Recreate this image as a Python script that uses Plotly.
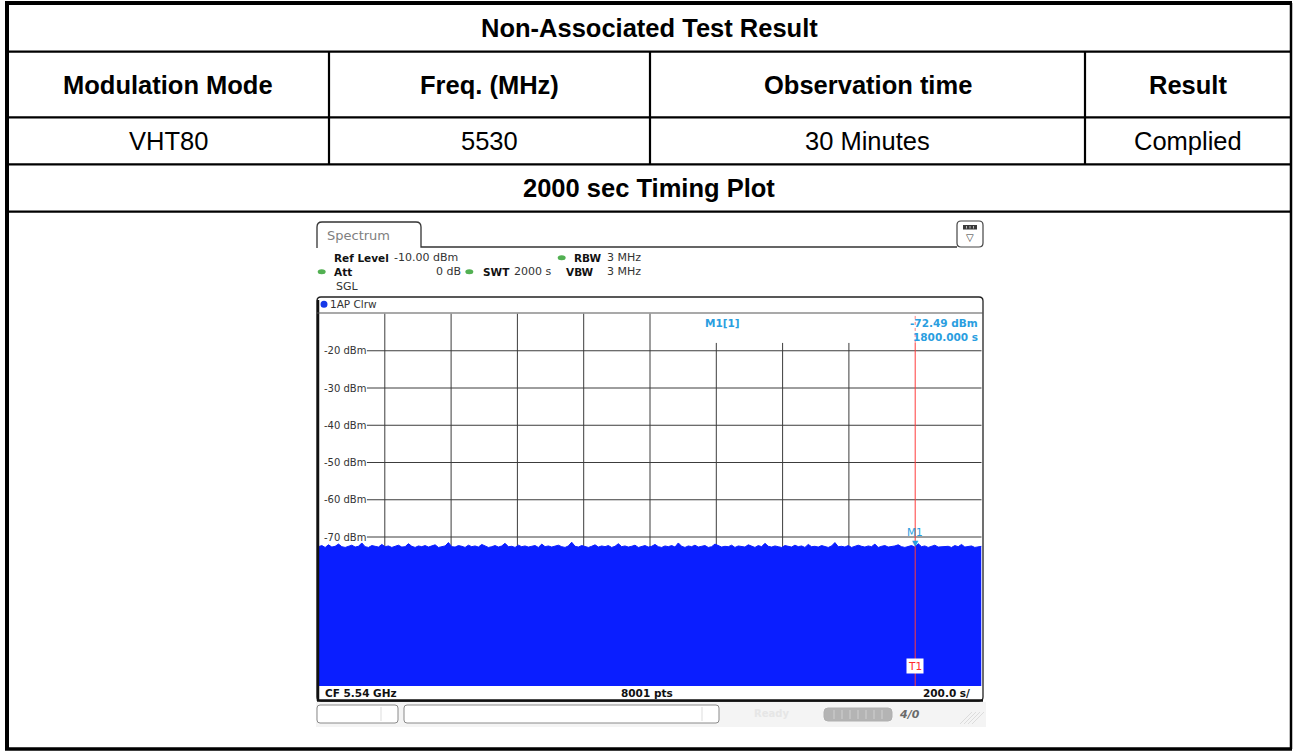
import plotly.graph_objects as go

W, H = 1293, 751

# ---------------- data ----------------
table_title = "Non-Associated Test Result"
header_labels = ["Modulation Mode", "Freq. (MHz)", "Observation time", "Result"]
row_values = ["VHT80", "5530", "30 Minutes", "Complied"]
plot_title = "2000 sec Timing Plot"

sweep_time = 2000          # s
ref_level = -10            # dBm
bottom_level = -110        # dBm
time_ticks = [200, 400, 600, 800, 1000, 1200, 1400, 1600, 1800]
level_ticks = [-20, -30, -40, -50, -60, -70]
level_tick_labels = ["-20 dBm", "-30 dBm", "-40 dBm", "-50 dBm", "-60 dBm", "-70 dBm"]
marker_time = 1800
marker_level = -72.49

trace_levels = [
    -72.6, -72.3, -72.8, -72.1, -72.7, -72.5, -71.9, -72.6, -72.8, -72.4,
    -72.2, -72.7, -72.5, -71.6, -72.6, -72.8, -72.3, -72.5, -72.7, -72.0,
    -72.6, -72.4, -72.8, -72.5, -72.2, -72.7, -72.6, -71.8, -72.5, -72.8,
    -72.4, -72.6, -72.3, -72.7, -72.5, -72.1, -72.8, -72.6, -72.4, -71.5,
    -72.6, -72.7, -72.3, -72.5, -72.8, -72.2, -72.6, -72.4, -72.7, -72.0,
    -72.5, -72.8, -72.6, -72.3, -72.7, -72.4, -71.7, -72.6, -72.5, -72.8,
    -72.2, -72.6, -72.4, -72.7, -72.5, -72.3, -72.8, -71.9, -72.6, -72.4,
    -72.7, -72.5, -72.2, -72.6, -72.8, -72.4, -71.4, -72.5, -72.7, -72.3,
    -72.6, -72.8, -72.5, -72.1, -72.7, -72.4, -72.6, -72.3, -72.8, -72.5,
    -71.8, -72.6, -72.4, -72.7, -72.5, -72.2, -72.8, -72.6, -72.3, -72.7,
    -72.5, -72.0, -72.6, -72.8, -72.4, -72.6, -72.3, -72.7, -71.6, -72.5,
    -72.8, -72.4, -72.6, -72.2, -72.7, -72.5, -72.3, -72.8, -72.6, -71.9,
    -72.4, -72.7, -72.5, -72.6, -72.2, -72.8, -72.4, -72.6, -72.7, -72.1,
    -72.5, -72.8, -72.3, -72.6, -71.7, -72.5, -72.7, -72.4, -72.6, -72.8,
    -72.3, -72.5, -72.7, -72.2, -72.6, -72.4, -72.8, -72.0, -72.6, -72.5,
    -72.7, -72.3, -72.6, -72.8, -72.4, -71.5, -72.6, -72.5, -72.7, -72.3,
    -72.8, -72.6, -72.2, -72.5, -72.7, -72.4, -72.6, -71.9, -72.8, -72.5,
    -72.3, -72.7, -72.6, -72.4, -72.1, -72.6, -72.8, -72.5, -72.3, -72.7,
    -71.8, -72.6, -72.4, -72.8, -72.5, -72.2, -72.7, -72.6, -72.4, -72.5,
    -72.8, -72.3, -72.6, -72.0, -72.7, -72.5, -72.4, -72.8, -72.6, -72.5,
]

# ---------------- helpers (pixel -> paper) ----------------
def X(px):
    return px / W

def Y(py):
    return 1 - py / H

shapes = []
annotations = []

def hline(y, x0, x1, color="#000", width=2):
    shapes.append(dict(type="line", xref="paper", yref="paper", x0=X(x0), x1=X(x1),
                       y0=Y(y), y1=Y(y), line=dict(color=color, width=width)))

def vline(x, y0, y1, color="#000", width=2, dash="solid"):
    shapes.append(dict(type="line", xref="paper", yref="paper", x0=X(x), x1=X(x),
                       y0=Y(y0), y1=Y(y1), line=dict(color=color, width=width, dash=dash)))

def rrect(x0, y0, x1, y1, r, line="#555", width=1, fill=None):
    p = lambda x, y: f"{X(x)},{Y(y)}"
    path = (f"M {p(x0, y0 + r)} Q {p(x0, y0)} {p(x0 + r, y0)} L {p(x1 - r, y0)} "
            f"Q {p(x1, y0)} {p(x1, y0 + r)} L {p(x1, y1 - r)} Q {p(x1, y1)} {p(x1 - r, y1)} "
            f"L {p(x0 + r, y1)} Q {p(x0, y1)} {p(x0, y1 - r)} Z")
    shapes.append(dict(type="path", xref="paper", yref="paper", path=path,
                       line=dict(color=line, width=width),
                       fillcolor=fill if fill else "rgba(0,0,0,0)"))

def text(x, y, s, size=10, color="#222", family="DejaVu Sans", anchor="left", bold=False):
    annotations.append(dict(xref="paper", yref="paper", x=X(x), y=Y(y),
                            text=f"<b>{s}</b>" if bold else s, showarrow=False,
                            xanchor=anchor, yanchor="middle",
                            font=dict(size=size, color=color, family=family)))

# ---------------- table ----------------
TF = "Liberation Sans, Arial, sans-serif"
TS = 25.5
col_x = [7, 329, 650, 1085, 1291]
row_y = [3, 51.7, 117.3, 164.3, 211.7, 749]

for y in row_y[1:5]:
    hline(y, 7, 1291, width=2.2)
for x in col_x[1:4]:
    vline(x, row_y[1], row_y[3], width=2.2)
# outer border
hline(3, 5, 1292, width=4)
hline(749, 5, 1292, width=3.5)
vline(7, 3, 749, width=4)
vline(1291, 3, 749, width=2.5)

text(649, (row_y[0] + row_y[1]) / 2 + 1, table_title, size=TS, color="#000", family=TF,
     anchor="center", bold=True)
for i, lab in enumerate(header_labels):
    cx = (col_x[i] + col_x[i + 1]) / 2
    text(cx, (row_y[1] + row_y[2]) / 2, lab, size=TS, color="#000", family=TF,
         anchor="center", bold=True)
    text(cx, (row_y[2] + row_y[3]) / 2, row_values[i], size=TS, color="#000", family=TF,
         anchor="center")
text(649, (row_y[3] + row_y[4]) / 2, plot_title, size=TS, color="#000", family=TF,
     anchor="center", bold=True)

# ---------------- spectrum analyzer screenshot ----------------
SF = "DejaVu Sans, Verdana, sans-serif"
BLUE_TXT = "#2a9ee0"

# tab
p = lambda x, y: f"{X(x)},{Y(y)}"
shapes.append(dict(type="path", xref="paper", yref="paper",
                   path=(f"M {p(317, 248)} L {p(317, 227)} Q {p(317, 222)} {p(322, 222)} "
                         f"L {p(416, 222)} Q {p(421, 222)} {p(421, 227)} L {p(421, 247)} "
                         f"L {p(957, 247)}"),
                   line=dict(color="#333", width=1.3)))
text(325, 235.5, "Spectrum", size=13, color="#808080", family=SF)

# icon top-right
rrect(957, 221, 983, 247, 4, line="#444", width=1.2, fill="#ffffff")
shapes.append(dict(type="rect", xref="paper", yref="paper", x0=X(963), x1=X(977),
                   y0=Y(225), y1=Y(229.5), fillcolor="#3a3a3a", line=dict(width=0)))
for sx in [966.5, 970, 973.5]:
    vline(sx, 226, 228.5, color="#bbbbbb", width=1)
text(970, 238, "▽", size=10, color="#333", family=SF, anchor="center")

# header info
def dot(x, y, color, w=8, h=5):
    shapes.append(dict(type="circle", xref="paper", yref="paper",
                       x0=X(x - w / 2), x1=X(x + w / 2), y0=Y(y - h / 2), y1=Y(y + h / 2),
                       fillcolor=color, line=dict(width=0)))

GREEN = "#52b052"
HS = 11
HB = 10.5
r1, r2, r3 = 257.7, 271.7, 286.7
text(332, r1, "Ref Level", size=HB, color="#111", family=SF, bold=True)
text(392, r1, f"{ref_level:.2f} dBm", size=HS, color="#333", family=SF)
dot(561.7, r1, GREEN)
text(572, r1, "RBW", size=HB, color="#111", family=SF, bold=True)
text(605, r1, "3 MHz", size=HS, color="#333", family=SF)
dot(321.7, r2, GREEN)
text(332, r2, "Att", size=HB, color="#111", family=SF, bold=True)
text(434, r2, "0 dB", size=HS, color="#333", family=SF)
dot(469.3, r2, GREEN)
text(480.5, r2, "SWT", size=HB, color="#111", family=SF, bold=True)
text(512, r2, f"{sweep_time} s", size=HS, color="#333", family=SF)
text(564, r2, "VBW", size=HB, color="#111", family=SF, bold=True)
text(605, r2, "3 MHz", size=HS, color="#333", family=SF)
text(334, r3, "SGL", size=HS, color="#333", family=SF)

# plot frame
rrect(317, 297, 983, 701, 4, line="#222", width=1.3)
vline(318, 300, 701, color="#111", width=2.5)
hline(700.5, 317, 983, color="#111", width=2.5)
hline(313, 317, 983, color="#555", width=1.2)
dot(324, 304.3, "#1538e8", w=7, h=7)
text(328, 304.3, "1AP Clrw", size=10.5, color="#333", family=SF)

# bottom row texts
text(323, 692.7, "CF 5.54 GHz", size=10.5, color="#111", family=SF, bold=True)
text(647, 692.7, "8001 pts", size=10.5, color="#111", family=SF, bold=True, anchor="center")
text(972, 692.7, f"{sweep_time / 10:.1f} s/", size=10.5, color="#111", family=SF, bold=True,
     anchor="right")

# status bar
shapes.append(dict(type="rect", xref="paper", yref="paper", x0=X(316), x1=X(986),
                   y0=Y(702), y1=Y(727), fillcolor="#f4f4f4", line=dict(width=0), layer="below"))
rrect(317, 705, 398, 723, 3, line="#8a8a8a", width=1, fill="#ffffff")
rrect(404, 705, 719, 723, 3, line="#8a8a8a", width=1, fill="#ffffff")
vline(381, 707, 721, color="#dddddd", width=1)
vline(702, 707, 721, color="#dddddd", width=1)
text(771, 713.5, "Ready", size=10, color="#e6e6e6", family=SF, anchor="center", bold=True)
rrect(824, 708, 892, 721, 4, line="#b0b0b0", width=1, fill="#b4b4b4")
for sx in [834, 842, 850, 858, 866, 874, 882]:
    vline(sx, 710, 719, color="#d0d0d0", width=1)
text(909, 714, "<i>4/0</i>", size=11, color="#6a6a6a", family=SF, anchor="center", bold=True)
for k in range(4):
    shapes.append(dict(type="line", xref="paper", yref="paper",
                       x0=X(984 - 4 * k), x1=X(972 - 4 * k),
                       y0=Y(712), y1=Y(724),
                       line=dict(color="#dcdcdc", width=1)))

# ---------------- grid and trace (data coordinates) ----------------
x_dom = [X(318.5), X(981.5)]
y_dom = [Y(686), Y(313.5)]

short_top = -17.9
for t in time_ticks:
    if t == marker_time:
        continue
    top = short_top if t in (1200, 1400, 1600) else ref_level
    shapes.append(dict(type="line", xref="x", yref="y", x0=t, x1=t, y0=bottom_level, y1=top,
                       line=dict(color="#3c3c3c", width=1), layer="below"))
for lv, lab in zip(level_ticks, level_tick_labels):
    shapes.append(dict(type="line", xref="x domain", yref="y", x0=0.073, x1=1, y0=lv, y1=lv,
                       line=dict(color="#3c3c3c", width=1), layer="below"))
    annotations.append(dict(xref="x domain", yref="y", x=0.006, y=lv, text=lab,
                            showarrow=False, xanchor="left", yanchor="middle",
                            font=dict(size=10, color="#333", family=SF)))

n = len(trace_levels)
times = [sweep_time * i / (n - 1) for i in range(n)]

fig = go.Figure()
fig.add_trace(go.Scatter(x=[0, sweep_time], y=[bottom_level, bottom_level], mode="lines",
                         line=dict(width=0, color="#0a1eff"), showlegend=False,
                         hoverinfo="skip"))
fig.add_trace(go.Scatter(x=times, y=trace_levels, mode="lines", fill="tonexty",
                         fillcolor="#0a1eff", line=dict(color="#0a1eff", width=1),
                         showlegend=False))

# marker line
shapes.append(dict(type="line", xref="x", yref="y", x0=marker_time, x1=marker_time,
                   y0=bottom_level, y1=short_top, line=dict(color="#ff3c3c", width=1)))
shapes.append(dict(type="line", xref="x", yref="y", x0=marker_time, x1=marker_time,
                   y0=short_top, y1=ref_level, line=dict(color="#ff8080", width=1, dash="dot")))
annotations.append(dict(xref="x", yref="y", x=marker_time, y=marker_level, text="▼",
                        showarrow=False, yanchor="bottom", yshift=-4,
                        font=dict(size=8, color=BLUE_TXT, family=SF)))
annotations.append(dict(xref="x", yref="y", x=marker_time, y=marker_level, text="M1",
                        showarrow=False, yanchor="bottom", yshift=6,
                        font=dict(size=10.5, color=BLUE_TXT, family=SF)))
annotations.append(dict(xref="x", yref="paper", x=marker_time, y=Y(666), text="T1",
                        showarrow=False, yanchor="middle", bgcolor="#ffffff", borderpad=1,
                        font=dict(size=10.5, color="#ff2a2a", family=SF)))
text(722, 322.7, "M1[1]", size=10.5, color=BLUE_TXT, family=SF, anchor="center", bold=True)
text(980, 322.7, f"{marker_level:.2f} dBm", size=10.5, color=BLUE_TXT, family=SF,
     anchor="right", bold=True)
text(980, 336.7, f"{marker_time:.3f} s", size=10.5, color=BLUE_TXT, family=SF,
     anchor="right", bold=True)

fig.update_layout(
    width=W, height=H,
    margin=dict(l=0, r=0, t=0, b=0),
    paper_bgcolor="#ffffff", plot_bgcolor="#ffffff",
    xaxis=dict(domain=x_dom, range=[0, sweep_time], visible=False, fixedrange=True),
    yaxis=dict(domain=y_dom, range=[bottom_level, ref_level], visible=False, fixedrange=True),
    shapes=shapes, annotations=annotations,
    showlegend=False,
)

fig.write_html("out.html", post_script="document.body.style.margin='0';",
               config={"displayModeBar": False})
